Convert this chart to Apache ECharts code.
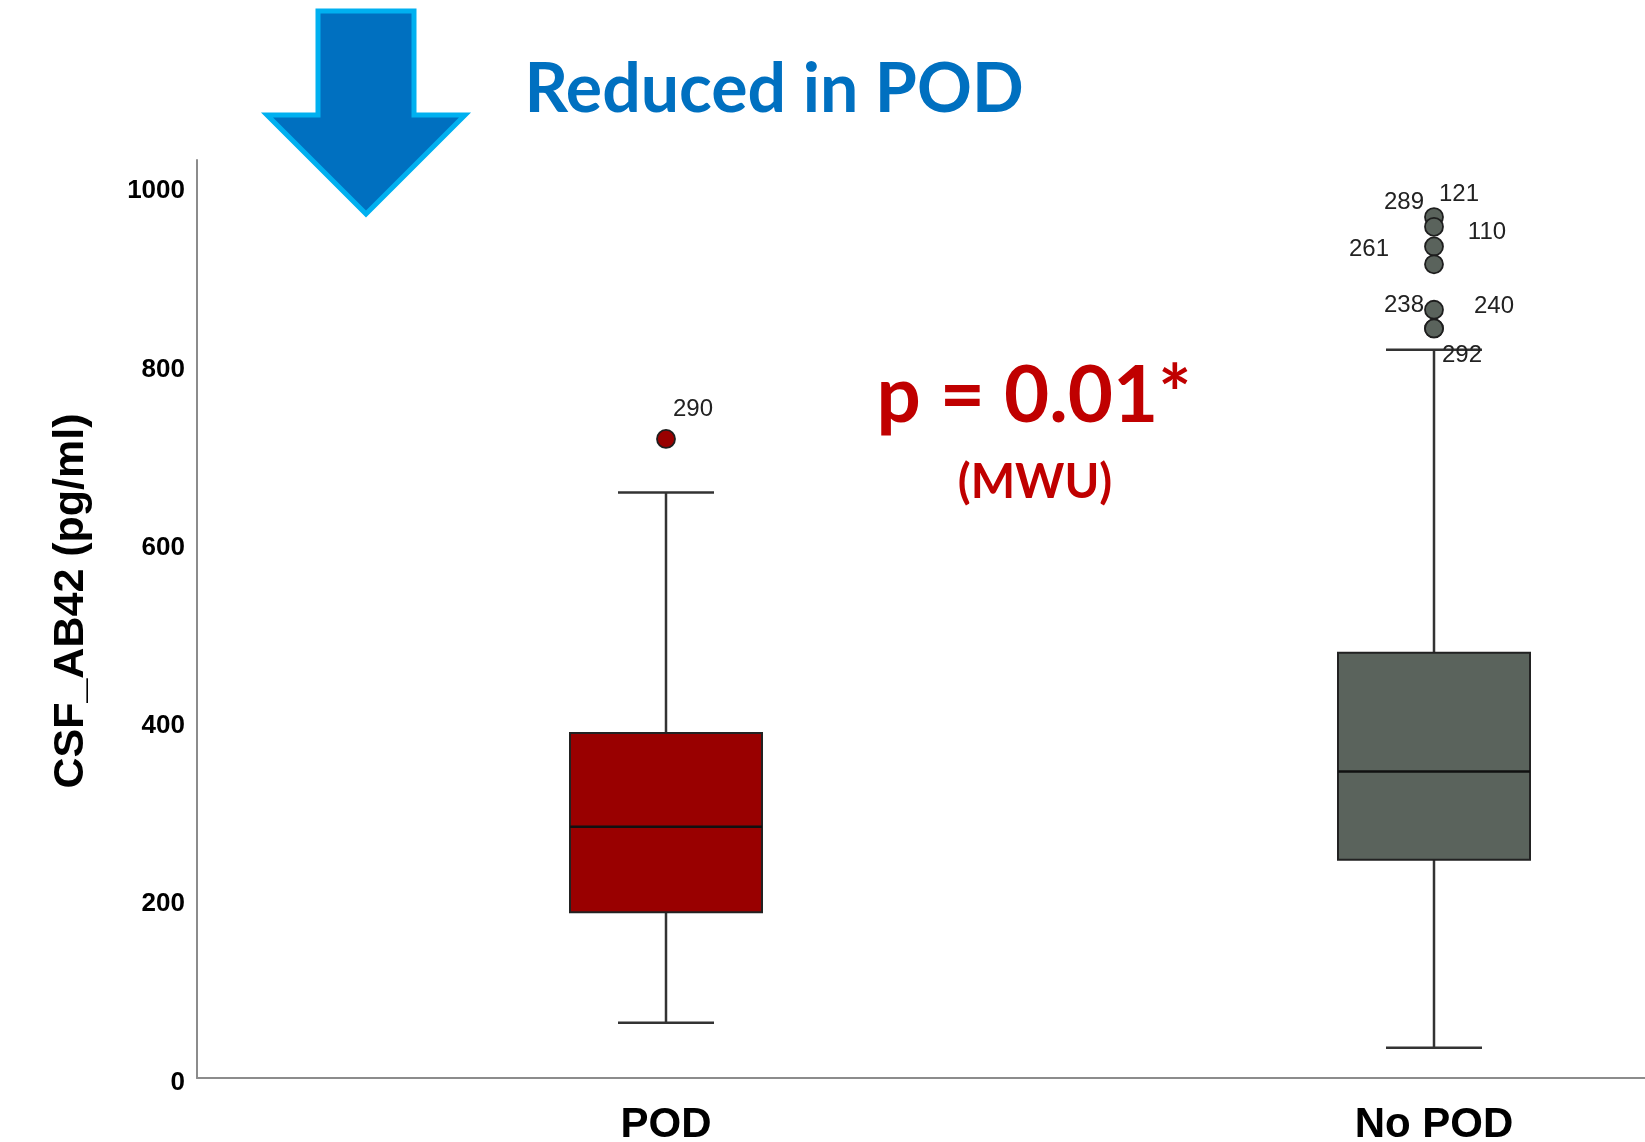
<!DOCTYPE html>
<html><head><meta charset="utf-8">
<script src="https://cdn.jsdelivr.net/npm/echarts/dist/echarts.min.js"></script>
<style>html,body{margin:0;padding:0;background:#fff}#c{width:1645px;height:1142px}</style>
</head><body><div id="c"></div>
<script>
// ---- data ----
const categories = ['POD', 'No POD'];
const whiskerLow = [62, 34];
const q1 = [186, 245];
const medians = [282, 344];
const q3 = [387, 477];
const whiskerHigh = [657, 817];
const outlierGroup = [0, 1, 1, 1, 1, 1, 1, 1];
const outlierValues = [717, 966, 955, 933, 913, 862, 841, 841];
const outlierIds = ['290', '121', '289', '110', '261', '238', '240', '292'];
const yAxisTitle = 'CSF_AB42 (pg/ml)';
const headline = 'Reduced in POD';
const pValueText = 'p = 0.01*';
const testText = '(MWU)';

// ---- styling ----
const fills = ['#990000', '#5A635C'];
const outlierLabelOffsets = [[27, -30], [25, -23], [-30, -24], [53, -14], [-65, -15], [-30, -4], [60, -22], [28, 27]];
const FONT = "'Liberation Sans', Arial, sans-serif";

const boxData = categories.map((c, i) => [i, whiskerLow[i], q1[i], medians[i], q3[i], whiskerHigh[i]]);
const outlierData = outlierValues.map((v, k) => ({
  value: [outlierGroup[k], v],
  itemStyle: { color: fills[outlierGroup[k]] },
  label: { offset: outlierLabelOffsets[k] }
}));

const chart = echarts.init(document.getElementById('c'), null, { renderer: 'canvas' });
chart.setOption({
  animation: false,
  backgroundColor: '#fff',
  grid: [
    { left: 197, top: 160, width: 1448, height: 918, outerBoundsMode: 'none', containLabel: false },
    { left: 282, top: 160, width: 1536, height: 918, outerBoundsMode: 'none', containLabel: false }
  ],
  xAxis: [
    { gridIndex: 0, type: 'value', min: 0, max: 1,
      axisLine: { show: true, lineStyle: { color: '#8c8c8c', width: 2 } },
      axisTick: { show: false }, axisLabel: { show: false }, splitLine: { show: false } },
    { gridIndex: 1, type: 'category', data: categories,
      axisLine: { show: false }, axisTick: { show: false }, splitLine: { show: false },
      axisLabel: { color: '#000', fontWeight: 'bold', fontSize: 42, fontFamily: FONT, margin: 26 } }
  ],
  yAxis: [
    { gridIndex: 0, type: 'value', min: 0, max: 1030, interval: 200,
      name: yAxisTitle, nameLocation: 'middle', nameRotate: 90, nameGap: 104,
      nameTextStyle: { color: '#000', fontWeight: 'bold', fontSize: 43, fontFamily: FONT, padding: [0, 0, 0, 36] },
      axisLine: { show: true, lineStyle: { color: '#8c8c8c', width: 2 } },
      axisTick: { show: false }, splitLine: { show: false },
      axisLabel: { color: '#000', fontWeight: 'bold', fontSize: 26, fontFamily: FONT, margin: 12, showMaxLabel: false,
        verticalAlign: 'top', lineHeight: 9, formatter: v => String(v) } },
    { gridIndex: 1, type: 'value', min: 0, max: 1030, show: false, splitLine: { show: false } }
  ],
  series: [
    {
      type: 'custom', xAxisIndex: 1, yAxisIndex: 1, z: 2,
      data: boxData,
      encode: { x: 0, y: [1, 2, 3, 4, 5] },
      renderItem: function (params, api) {
        const i = api.value(0);
        const cx = api.coord([i, 0])[0];
        const band = api.size([1, 0])[0];
        const bw = band * 0.25, cw = bw / 2;
        const yLo = api.coord([i, api.value(1)])[1];
        const yQ1 = api.coord([i, api.value(2)])[1];
        const yMed = api.coord([i, api.value(3)])[1];
        const yQ3 = api.coord([i, api.value(4)])[1];
        const yHi = api.coord([i, api.value(5)])[1];
        const ws = { stroke: '#333', lineWidth: 2.5 };
        return { type: 'group', children: [
          { type: 'line', shape: { x1: cx, y1: yLo, x2: cx, y2: yQ1 }, style: ws },
          { type: 'line', shape: { x1: cx, y1: yQ3, x2: cx, y2: yHi }, style: ws },
          { type: 'line', shape: { x1: cx - cw / 2, y1: yLo, x2: cx + cw / 2, y2: yLo }, style: ws },
          { type: 'line', shape: { x1: cx - cw / 2, y1: yHi, x2: cx + cw / 2, y2: yHi }, style: ws },
          { type: 'rect', shape: { x: cx - bw / 2, y: yQ3, width: bw, height: yQ1 - yQ3 },
            style: { fill: fills[i], stroke: '#222', lineWidth: 2 } },
          { type: 'line', shape: { x1: cx - bw / 2, y1: yMed, x2: cx + bw / 2, y2: yMed },
            style: { stroke: '#111', lineWidth: 2.5 } }
        ] };
      }
    },
    {
      type: 'scatter', xAxisIndex: 1, yAxisIndex: 1, z: 3,
      symbol: 'circle', symbolSize: 18,
      itemStyle: { borderColor: '#1e1e1e', borderWidth: 1.8, opacity: 1 },
      label: { show: true, position: 'inside', color: '#222', fontSize: 24, fontFamily: FONT,
        formatter: p => outlierIds[p.dataIndex] },
      data: outlierData
    }
  ],
  graphic: [
    { type: 'polygon', z: 10,
      shape: { points: [[318, 11], [414, 11], [414, 115], [465, 115], [366, 214], [267, 115], [318, 115]] },
      style: { fill: '#0070C0', stroke: '#00B0F0', lineWidth: 5, lineJoin: 'miter' } },
    { type: 'text', z: 10, x: 774, y: 90,
      style: { text: headline, fill: '#0070C0', font: "bold 68px Lato, 'Open Sans', sans-serif", align: 'center', verticalAlign: 'middle' } },
    { type: 'text', z: 10, x: 1034, y: 397,
      style: { text: pValueText, fill: '#C00000', font: "bold 78px Lato, 'Open Sans', sans-serif", align: 'center', verticalAlign: 'middle' } },
    { type: 'text', z: 10, x: 1035, y: 483,
      style: { text: testText, fill: '#C00000', font: "bold 47px Lato, 'Open Sans', sans-serif", align: 'center', verticalAlign: 'middle' } }
  ]
});
</script>
</body></html>
